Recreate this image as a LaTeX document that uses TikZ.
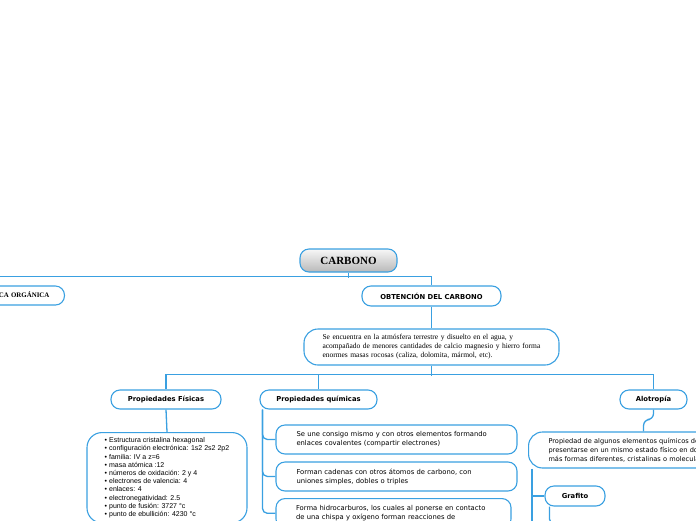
\documentclass[tikz,border=0pt]{standalone}
\usepackage{fontspec}
\setmainfont{Liberation Serif}
\newfontfamily\verd{DejaVu Sans}
\newfontfamily\arialf{Liberation Sans}
\definecolor{lineblue}{RGB}{58,160,225}
\begin{document}
\begin{tikzpicture}[x=1pt,y=-1pt,
  box/.style={draw=lineblue, line width=1.1pt, rounded corners=9pt, fill=white, inner sep=0pt},
  conn/.style={draw=lineblue, line width=1.3pt},
  head/.style={box, font=\verd\bfseries\fontsize{6.8}{8}\selectfont},
  para/.style={box, align=left, font=\verd\fontsize{6.8}{9}\selectfont}
]
\useasboundingbox (0,0) rectangle (696,520);

% nodes
\node[box, top color=gray!6, bottom color=gray!55, minimum width=97pt, minimum height=23pt,
      font=\bfseries\fontsize{11}{12}\selectfont] (carbono) at (348.5,260.5) {CARBONO};
\node[box, anchor=east, minimum height=19pt, text width=120pt, align=right, inner xsep=15pt,
      font=\bfseries\fontsize{6.9}{8}\selectfont] (qo) at (65,295.5) {QUÍMICA ORGÁNICA};
\node[head, minimum width=139pt, minimum height=20pt] (obt) at (431.5,296) {OBTENCIÓN DEL CARBONO};
\node[box, rounded corners=14pt, align=left, text width=218pt, inner xsep=18.5pt, minimum height=36pt,
      font=\fontsize{7.5}{9}\selectfont] (se) at (431.5,347)
  {Se encuentra en la atmósfera terrestre y disuelto en el agua, y\\
   acompañado de menores cantidades de calcio magnesio y hierro forma\\
   enormes masas rocosas (caliza, dolomita, mármol, etc).};
\node[head, minimum width=110pt, minimum height=19pt] (pf) at (166,399.5) {Propiedades Físicas};
\node[head, minimum width=117pt, minimum height=19pt] (pq) at (318.5,399.5) {Propiedades químicas};
\node[head, minimum width=67pt, minimum height=19pt] (alo) at (653.5,399.5) {Alotropía};

\node[box, rounded corners=15pt, anchor=north, align=left, minimum width=160pt, inner ysep=5pt,
      font=\arialf\fontsize{7}{8.2}\selectfont] (list) at (167,432)
  {• Estructura cristalina hexagonal\\
   • configuración electrónica: 1s2 2s2 2p2\\
   • familia: IV a z=6\\
   • masa atómica :12\\
   • números de oxidación: 2 y 4\\
   • electrones de valencia: 4\\
   • enlaces: 4\\
   • electronegatividad: 2.5\\
   • punto de fusión: 3727 °c\\
   • punto de ebullición: 4230 °c};

\node[para, text width=200pt, inner xsep=20.5pt, minimum height=29pt] (q1) at (396.5,439.5)
  {Se une consigo mismo y con otros elementos formando\\ enlaces covalentes (compartir electrones)};
\node[para, text width=200pt, inner xsep=20.5pt, minimum height=29pt] (q2) at (396.5,476.5)
  {Forman cadenas con otros átomos de carbono, con\\ uniones simples, dobles o triples};
\node[para, anchor=north, text width=195pt, inner xsep=20pt, inner ysep=7pt] (q3) at (393.5,498)
  {Forma hidrocarburos, los cuales al ponerse en contacto\\ de una chispa y oxígeno forman reacciones de};

\node[box, rounded corners=14pt, anchor=west, align=left, text width=190pt, inner xsep=20pt,
      minimum height=36pt, font=\verd\fontsize{6.6}{9}\selectfont] (aloB) at (528,450)
  {Propiedad de algunos elementos químicos de\\
   presentarse en un mismo estado físico en dos o\\
   más formas diferentes, cristalinas o moleculares.};
\node[head, minimum width=60pt, minimum height=20pt] (grafito) at (575,496) {Grafito};

\coordinate (aloEnd) at (532,540);
\coordinate (grafEnd) at (572,524);

% connectors
\draw[conn] (carbono.south) -- ++(0,5);
\draw[conn] (qo.north) -- ++(0,-9) -| (obt.north);
\draw[conn] (obt.south) -- (se.north);
\draw[conn] (se.south) -- ++(0,10);
\draw[conn] (pf.north) -- ++(0,-15) -| (alo.north);
\draw[conn] (pq.north) -- ++(0,-15);
\draw[conn] (pf.south) -- (list.north);
\draw[conn, rounded corners=5pt] ([xshift=3pt]pq.south west) |- (q1.west);
\draw[conn, rounded corners=5pt] ([xshift=3pt]pq.south west) |- (q2.west);
\draw[conn, rounded corners=5pt] ([xshift=3pt]pq.south west) |- (q3.west);
\draw[conn, rounded corners=6pt] (alo.south) -- ++(0,10) -| (aloB.north);
\draw[conn] ([xshift=4pt]aloB.south west) -- (aloEnd);
\draw[conn] (grafito.west) -- (grafito.west -| aloEnd);
\draw[conn, rounded corners=5pt] ([xshift=5pt]grafito.south west) |- (grafEnd);
\end{tikzpicture}
\end{document}
